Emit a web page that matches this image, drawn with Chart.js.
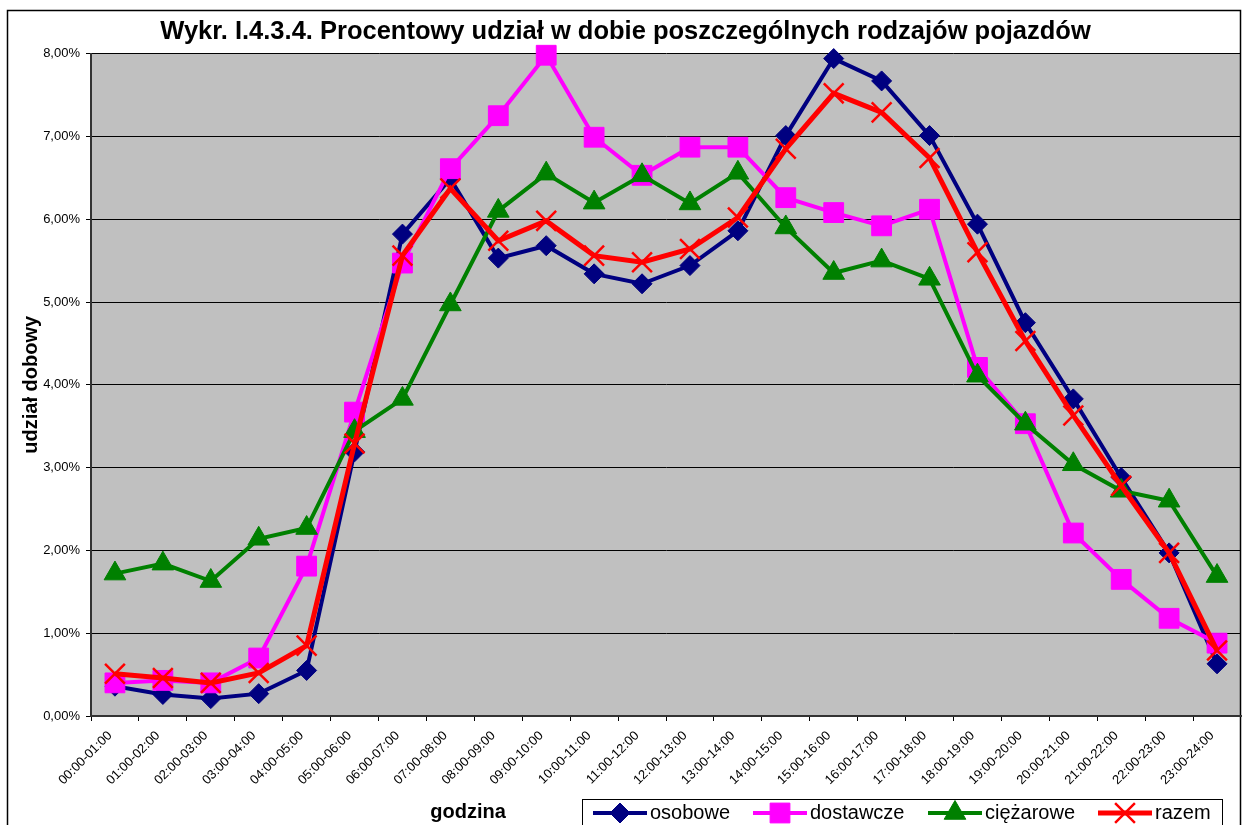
<!DOCTYPE html>
<html><head><meta charset="utf-8">
<script src="https://cdn.jsdelivr.net/npm/chart.js@4.4.1/dist/chart.umd.min.js"></script>
<style>html,body{margin:0;padding:0;background:#fff;}#wrap{width:1242px;height:825px;}</style>
</head><body><div id="wrap"><canvas id="c" width="1242" height="825"></canvas></div>
<script>
const TITLE = 'Wykr. I.4.3.4. Procentowy udział w dobie poszczególnych rodzajów pojazdów';
const Y_TITLE = 'udział dobowy';
const X_TITLE = 'godzina';
const hours = ['00:00-01:00','01:00-02:00','02:00-03:00','03:00-04:00','04:00-05:00','05:00-06:00',
  '06:00-07:00','07:00-08:00','08:00-09:00','09:00-10:00','10:00-11:00','11:00-12:00',
  '12:00-13:00','13:00-14:00','14:00-15:00','15:00-16:00','16:00-17:00','17:00-18:00',
  '18:00-19:00','19:00-20:00','20:00-21:00','21:00-22:00','22:00-23:00','23:00-24:00'];
const osobowe    = [0.36,0.26,0.21,0.27,0.55,3.19,5.82,6.49,5.53,5.68,5.34,5.22,5.44,5.86,7.01,7.94,7.67,7.01,5.94,4.75,3.83,2.88,1.97,0.63];
const dostawcze  = [0.40,0.43,0.40,0.70,1.81,3.67,5.47,6.61,7.25,7.98,6.99,6.53,6.87,6.87,6.26,6.08,5.92,6.12,4.21,3.53,2.21,1.65,1.18,0.88];
const ciezarowe  = [1.72,1.84,1.63,2.14,2.27,3.44,3.83,4.97,6.10,6.55,6.20,6.53,6.19,6.56,5.90,5.35,5.50,5.28,4.11,3.53,3.04,2.72,2.60,1.69];
const razem      = [0.51,0.46,0.40,0.52,0.85,3.29,5.56,6.37,5.74,5.98,5.56,5.48,5.64,6.02,6.85,7.52,7.29,6.74,5.60,4.53,3.63,2.78,1.97,0.79];
const seriesNames = ['osobowe','dostawcze','ciężarowe','razem'];
const yTickValues = [0,1,2,3,4,5,6,7,8];

const FF = '"Liberation Sans", Arial, sans-serif';
const styles = [
  {color:'#000080', pointStyle:'rectRot', radius:10, bw:1, lw:4},
  {color:'#FF00FF', pointStyle:'rect', radius:14, bw:1, lw:4},
  {color:'#008000', pointStyle:'triangle', radius:12.5, bw:1, lw:4},
  {color:'#FF0000', pointStyle:'crossRot', radius:14, bw:2.5, lw:5}
];
const seriesData = [osobowe, dostawcze, ciezarowe, razem];

function drawMarker(ctx, st, x, y){
  const r = st.radius;
  ctx.save();
  ctx.fillStyle = st.color; ctx.strokeStyle = st.color; ctx.lineWidth = st.bw;
  ctx.beginPath();
  if (st.pointStyle === 'rectRot') {
    ctx.moveTo(x-r,y); ctx.lineTo(x,y-r); ctx.lineTo(x+r,y); ctx.lineTo(x,y+r); ctx.closePath(); ctx.fill(); ctx.stroke();
  } else if (st.pointStyle === 'rect') {
    const s = r*Math.SQRT1_2; ctx.rect(x-s,y-s,2*s,2*s); ctx.fill(); ctx.stroke();
  } else if (st.pointStyle === 'triangle') {
    for (let i=0;i<3;i++){ const a = i*2*Math.PI/3; const px = x+Math.sin(a)*r, py = y-Math.cos(a)*r; i?ctx.lineTo(px,py):ctx.moveTo(px,py);} ctx.closePath(); ctx.fill(); ctx.stroke();
  } else {
    const o = r*Math.SQRT1_2; ctx.moveTo(x-o,y-o); ctx.lineTo(x+o,y+o); ctx.moveTo(x+o,y-o); ctx.lineTo(x-o,y+o); ctx.stroke();
  }
  ctx.restore();
}

const decor = {
  id:'decor',
  beforeDraw(chart){
    const {ctx, chartArea:a} = chart;
    ctx.save();
    ctx.fillStyle = '#fff'; ctx.fillRect(0,0,chart.width,chart.height);
    ctx.fillStyle = '#C0C0C0'; ctx.fillRect(a.left, a.top, a.right-a.left, a.bottom-a.top);
    ctx.strokeStyle = '#000'; ctx.lineWidth = 1.5; ctx.strokeRect(7.5, 10.5, 1233, 840);
    ctx.restore();
  },
  afterDraw(chart){
    const ctx = chart.ctx;
    ctx.save();
    ctx.fillStyle = '#000'; ctx.font = 'bold 20px ' + FF; ctx.textAlign='center'; ctx.textBaseline='middle';
    ctx.fillText(X_TITLE, 468, 812);
    ctx.strokeStyle = '#000'; ctx.lineWidth = 1; ctx.strokeRect(582.5, 799.5, 640, 40);
    const starts = [593, 753, 928, 1098];
    ctx.font = '20px ' + FF; ctx.textAlign='left';
    seriesNames.forEach((n,i)=>{
      const st = styles[i], x0 = starts[i], y = 813;
      ctx.strokeStyle = st.color; ctx.lineWidth = st.lw; ctx.beginPath(); ctx.moveTo(x0,y); ctx.lineTo(x0+54,y); ctx.stroke();
      drawMarker(ctx, st, x0+27, y);
      ctx.fillStyle='#000'; ctx.fillText(n, x0+57, y);
    });
    ctx.restore();
  }
};

const datasets = seriesNames.map((n,i)=>({
  label:n, data:seriesData[i], borderColor:styles[i].color, backgroundColor:styles[i].color,
  borderWidth:styles[i].lw, pointStyle:styles[i].pointStyle, pointRadius:styles[i].radius,
  pointBorderWidth:styles[i].bw, pointBackgroundColor:styles[i].color, pointBorderColor:styles[i].color,
  order:3-i, clip:false, tension:0
}));

new Chart(document.getElementById('c'), {
  type:'line',
  data:{labels:hours, datasets},
  options:{
    responsive:false, animation:false, events:[],
    layout:{autoPadding:false, padding:{left:10,right:1,top:0,bottom:0}},
    plugins:{
      legend:{display:false}, tooltip:{enabled:false},
      title:{display:true, text:TITLE, color:'#000', font:{family:FF, size:25.5, weight:'bold'}, padding:{top:17,bottom:6}}
    },
    scales:{
      x:{
        offset:true,
        afterFit(s){ s.height = 109; s.paddingLeft = 0; s.paddingRight = 0; },
        grid:{display:true, drawOnChartArea:false, drawTicks:true, tickLength:5, color:'#000', offset:true},
        border:{display:true, color:'#333', width:2},
        ticks:{autoSkip:false, minRotation:45, maxRotation:45, color:'#000', font:{family:FF, size:13}, padding:7, labelOffset:-5}
      },
      y:{
        min:0, max:8,
        afterFit(s){ s.width = 81; s.paddingTop = 0; s.paddingBottom = 0; },
        afterBuildTicks(s){ s.ticks = yTickValues.map(v=>({value:v})); },
        grid:{color:'#000', lineWidth:1, drawTicks:true, tickLength:5},
        border:{display:true, color:'#333', width:2},
        ticks:{color:'#000', font:{family:FF, size:13}, padding:6,
          callback:v=>v.toFixed(2).replace('.',',')+'%'},
        title:{display:true, text:Y_TITLE, color:'#000', font:{family:FF, size:20, weight:'bold'}, padding:{top:9,bottom:0}}
      }
    }
  },
  plugins:[decor]
});
</script></body></html>
